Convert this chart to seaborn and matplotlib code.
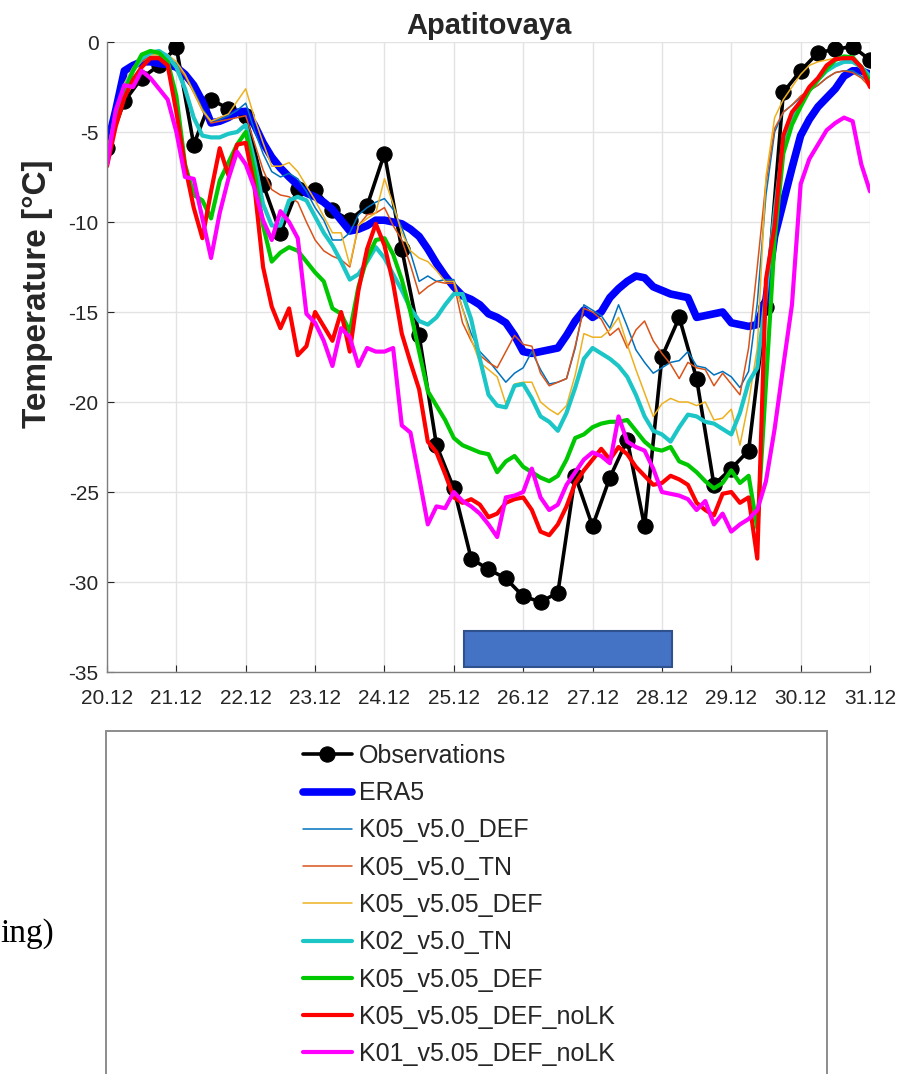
import matplotlib
matplotlib.use("Agg")
import matplotlib.pyplot as plt
from matplotlib.patches import Rectangle
import seaborn as sns
import numpy as np

sns.set_style("whitegrid")
plt.rcParams["font.family"] = ["Liberation Sans", "DejaVu Sans"]
plt.rcParams["axes.unicode_minus"] = False

# -------------------------------
# DATA (3-hourly, 20.12 00 UTC .. 31.12 00 UTC; obs every 6 h)
# -------------------------------
day_ticks = list(range(20, 32))
day_labels = [f"{d}.12" for d in day_ticks]

obs = [-5.9, -3.3, -2.0, -1.3, -0.3, -5.7, -3.2, -3.7,
       -4.1, -7.9, -10.6, -8.15, -8.2, -9.35, -9.9, -9.1,
       -6.2, -11.5, -16.3, -22.4, -24.8, -28.7, -29.3, -29.8,
       -30.8, -31.1, -30.6, -24.1, -26.9, -24.2, -22.1, -26.9,
       -17.5, -15.3, -18.7, -24.6, -23.7, -22.7, -14.7, -2.8,
       -1.6, -0.6, -0.4, -0.25, -1.0]

era5 = [-5.8, -3.8, -1.6, -1.3, -1.1, -1.1, -1.2, -1.25,
        -1.4, -1.8, -2.4, -3.3, -4.5, -4.4, -4.2, -3.9,
        -3.85, -4.6, -5.6, -6.4, -7.0, -7.5, -7.95, -8.4,
        -8.6, -8.9, -9.3, -9.9, -10.5, -10.4, -10.2, -9.9,
        -9.9, -10.0, -10.1, -10.4, -10.8, -11.5, -12.3, -13.0,
        -13.6, -14.1, -14.3, -14.6, -15.1, -15.3, -15.6, -16.3,
        -17.2, -17.3, -17.2, -17.1, -17.0, -16.3, -15.5, -14.9,
        -15.3, -15.0, -14.2, -13.7, -13.3, -13.0, -13.1, -13.6,
        -13.8, -14.0, -14.1, -14.2, -15.3, -15.2, -15.1, -15.0,
        -15.6, -15.7, -15.8, -15.7, -14.3, -10.8, -8.9, -7.0,
        -5.2, -4.3, -3.6, -3.1, -2.6, -1.9, -1.6, -1.6,
        -1.8]

k05_v50_def = [-6.2, -3.8, -2.4, -1.5, -1.0, -0.8, -0.8, -0.9,
               -1.2, -1.8, -2.7, -3.7, -4.4, -4.3, -4.1, -3.8,
               -3.4, -4.9, -6.2, -7.2, -7.5, -7.3, -7.6, -8.3,
               -9.2, -9.9, -11.0, -11.0, -10.6, -9.6, -9.2, -8.9,
               -8.7, -9.3, -10.3, -11.7, -13.3, -13.0, -13.3, -13.2,
               -13.2, -14.8, -16.2, -17.2, -17.7, -18.3, -18.9, -18.4,
               -18.1, -17.2, -18.2, -19.0, -18.9, -18.7, -17.0, -14.6,
               -14.9, -15.2, -15.9, -14.6, -15.8, -17.1, -17.8, -18.4,
               -18.1, -17.8, -17.7, -17.2, -18.0, -18.1, -18.5, -18.3,
               -18.6, -19.2, -18.3, -14.5, -8.5, -5.0, -3.9, -3.5,
               -3.1, -2.7, -2.4, -2.0, -1.7, -1.6, -1.6, -1.9,
               -2.3]

k05_v50_tn = [-6.3, -3.9, -2.5, -1.6, -1.1, -0.8, -0.8, -0.9,
              -1.3, -1.9, -2.8, -3.8, -4.5, -4.4, -4.3, -4.2,
              -4.1, -5.6, -7.1, -8.2, -8.5, -8.6, -8.9, -10.0,
              -11.0, -11.6, -11.9, -12.1, -12.5, -10.2, -9.6, -9.5,
              -9.2, -10.2, -11.0, -12.4, -14.0, -13.6, -13.3, -13.4,
              -13.4, -15.6, -16.6, -17.4, -17.8, -18.1, -17.2, -16.3,
              -16.8, -16.9, -18.4, -19.1, -18.9, -18.7, -16.9, -14.8,
              -15.0, -15.4, -16.3, -15.9, -17.0, -16.0, -15.5, -16.6,
              -17.3, -17.9, -18.7, -17.8, -18.1, -18.2, -19.1, -18.4,
              -19.0, -19.6, -17.0, -12.5, -7.8, -4.8, -3.9, -3.5,
              -3.0, -2.7, -2.4, -2.0, -1.7, -1.6, -1.7, -2.0,
              -2.5]

k05_v505_def_thin = [-6.1, -3.7, -2.3, -1.4, -0.9, -0.7, -0.7, -0.7,
                     -1.1, -1.8, -2.8, -3.8, -4.4, -4.2, -4.0, -3.3,
                     -2.6, -4.2, -5.6, -6.9, -6.9, -6.7, -7.2, -8.0,
                     -8.8, -9.7, -10.6, -10.6, -12.4, -10.2, -9.8, -9.5,
                     -7.6, -9.0, -10.6, -11.6, -12.0, -12.2, -12.7, -13.3,
                     -13.3, -14.8, -16.5, -17.8, -18.2, -18.6, -20.1, -19.0,
                     -18.9, -18.9, -20.0, -20.4, -20.7, -20.2, -18.5, -16.2,
                     -16.4, -16.4, -16.0, -15.3, -16.8, -18.2, -19.5, -20.8,
                     -20.1, -19.8, -20.0, -20.0, -20.2, -20.0, -21.0, -20.9,
                     -20.4, -22.4, -20.0, -17.0, -7.5, -4.2, -3.2, -2.5,
                     -1.8, -1.3, -1.1, -1.0, -0.9, -0.9, -0.9, -1.5,
                     -2.6]

k02_v50_tn = [-6.7, -4.2, -2.6, -1.6, -0.9, -0.6, -0.5, -0.8,
              -1.4, -2.6, -4.2, -5.2, -5.3, -5.3, -5.1, -5.0,
              -4.6, -6.6, -9.0, -10.2, -10.2, -8.8, -8.6, -8.8,
              -9.7, -10.6, -11.3, -12.2, -13.2, -12.9, -12.2, -11.4,
              -12.0, -12.9, -13.8, -14.8, -15.5, -15.7, -15.3, -14.6,
              -14.0, -14.0, -15.4, -17.6, -19.6, -20.2, -20.3, -19.1,
              -19.0, -19.8, -20.8, -21.1, -21.6, -20.6, -19.2, -17.6,
              -17.0, -17.3, -17.6, -18.0, -18.6, -19.6, -20.8, -21.6,
              -21.8, -22.2, -21.4, -20.7, -20.8, -21.1, -21.2, -21.5,
              -21.8, -20.6, -18.9, -18.1, -14.0, -9.5, -5.6, -4.2,
              -3.3, -2.6, -2.1, -1.6, -1.3, -1.1, -1.1, -1.4,
              -1.9]

k05_v505_def = [-6.6, -4.3, -2.8, -1.6, -0.7, -0.5, -0.6, -1.1,
                -3.0, -6.8, -8.5, -8.8, -9.8, -7.7, -6.7, -5.7,
                -5.0, -7.2, -10.2, -12.2, -11.7, -11.4, -11.6, -12.2,
                -12.8, -13.3, -14.8, -15.1, -16.1, -13.6, -12.0, -11.0,
                -10.9, -11.8, -13.2, -15.0, -17.2, -19.4, -20.2, -21.0,
                -22.0, -22.4, -22.6, -22.8, -22.9, -23.9, -23.3, -23.0,
                -23.6, -23.9, -24.2, -24.4, -24.1, -23.2, -22.0, -21.8,
                -21.4, -21.2, -21.1, -21.1, -21.0, -21.6, -22.2, -22.6,
                -22.7, -22.5, -23.3, -23.5, -23.9, -24.4, -24.8, -24.5,
                -23.8, -24.5, -24.1, -27.0, -19.0, -11.0, -6.2, -4.6,
                -3.6, -2.7, -2.1, -1.5, -1.0, -0.8, -0.85, -1.4,
                -2.2]

k05_v505_def_nolk = [-6.9, -4.7, -3.1, -2.1, -1.4, -0.9, -0.9, -1.3,
                     -3.9, -6.9, -9.2, -10.9, -8.3, -5.9, -7.4, -5.7,
                     -5.6, -8.0, -12.5, -14.7, -15.9, -14.8, -17.4, -16.9,
                     -15.0, -15.8, -16.6, -15.0, -17.2, -13.8, -11.5, -10.1,
                     -11.3, -13.4, -16.2, -17.8, -19.3, -22.2, -22.8, -24.0,
                     -25.3, -25.6, -25.4, -25.7, -26.4, -26.2, -25.6, -25.4,
                     -25.3, -26.0, -27.2, -27.4, -26.8, -25.8, -24.5, -23.8,
                     -23.2, -22.6, -23.2, -22.5, -22.9, -23.6, -24.1, -24.6,
                     -24.5, -24.1, -24.3, -24.6, -25.6, -26.0, -26.3, -25.1,
                     -25.0, -25.6, -25.3, -28.7, -13.2, -10.2, -5.2, -3.9,
                     -3.3, -2.5, -2.0, -1.3, -0.95, -0.9, -0.9, -1.4,
                     -2.5]

k01_v505_def_nolk = [-6.8, -3.8, -2.4, -2.5, -1.6, -2.0, -2.6, -3.2,
                     -5.0, -7.5, -7.6, -9.8, -12.0, -9.5, -7.6, -6.1,
                     -6.8, -8.1, -9.9, -11.0, -9.4, -10.0, -10.9, -15.1,
                     -15.6, -16.6, -18.0, -15.9, -16.4, -18.0, -17.0, -17.2,
                     -17.2, -17.0, -21.3, -21.7, -24.2, -26.8, -25.8, -25.9,
                     -25.0, -25.5, -25.8, -26.2, -26.8, -27.5, -25.3, -25.2,
                     -25.0, -23.7, -25.3, -26.0, -25.7, -24.6, -23.9, -23.2,
                     -22.8, -23.0, -23.4, -20.8, -22.2, -22.5, -22.7, -23.7,
                     -25.0, -25.1, -25.2, -25.4, -26.0, -25.5, -26.8, -26.2,
                     -27.2, -26.8, -26.5, -26.0, -24.4, -21.5, -18.0, -14.6,
                     -7.9, -6.5, -5.7, -4.9, -4.5, -4.2, -4.4, -6.8,
                     -8.3]

# cold period marker (bar under the curves)
cold_start, cold_length = 25.15, 3.0
cold_center, cold_height = -33.7, 2.0

# -------------------------------
# PLOT
# -------------------------------
t_model = 20 + np.arange(len(era5)) / 8.0
t_obs = 20 + np.arange(len(obs)) / 4.0

fig = plt.figure(figsize=(9.17, 10.74), dpi=100)
ax = fig.add_axes([107 / 917, 1 - 672 / 1074, 763 / 917, 630 / 1074])

series = [
    (k05_v50_def, "K05_v5.0_DEF", "#0072BD", 1.1),
    (k05_v50_tn, "K05_v5.0_TN", "#D95319", 1.1),
    (k05_v505_def_thin, "K05_v5.05_DEF", "#EDB120", 1.1),
    (k02_v50_tn, "K02_v5.0_TN", "#1CC6C6", 3.0),
    (k05_v505_def, "K05_v5.05_DEF", "#00C800", 3.0),
    (k05_v505_def_nolk, "K05_v5.05_DEF_noLK", "#FF0000", 3.0),
    (k01_v505_def_nolk, "K01_v5.05_DEF_noLK", "#FF00FF", 3.0),
]

sns.lineplot(x=t_obs, y=obs, ax=ax, color="black", linewidth=2.6,
             marker="o", markersize=11, markeredgecolor="black", label="Observations")
sns.lineplot(x=t_model, y=era5, ax=ax, color="#0000FF", linewidth=5.5, label="ERA5")
for vals, name, col, lw in series:
    sns.lineplot(x=t_model, y=vals, ax=ax, color=col, linewidth=lw, label=name)

ax.barh(y=cold_center, width=cold_length, left=cold_start, height=cold_height,
        color="#4472C4", edgecolor="#2F528F", linewidth=1.5, zorder=1)

ax.set_xlim(20, 31)
ax.set_ylim(-35, 0)
ax.set_xticks(day_ticks)
ax.set_xticklabels(day_labels)
ax.set_yticks(range(-35, 1, 5))
ax.tick_params(axis="both", labelsize=15, direction="in", length=5, width=0.8,
               color="#262626", labelcolor="#262626")
ax.tick_params(axis="x", pad=12)
ax.tick_params(axis="y", pad=6)
ax.tick_params(axis="both", which="both", top=False, right=False, bottom=True, left=True)
ax.grid(True, color="#E3E3E3", linewidth=1)
for side in ["top", "right"]:
    ax.spines[side].set_visible(False)
for side in ["left", "bottom"]:
    ax.spines[side].set_color("#7F7F7F")
    ax.spines[side].set_linewidth(1.0)

ax.set_title("Apatitovaya", fontsize=21, fontweight="bold", pad=6)
ax.set_ylabel("Temperature [°C]", fontsize=24, fontweight="bold")
ax.yaxis.set_label_coords(-0.071, 0.60)
ax.set_xlabel("")

# legend in its own box below the axes
handles, labels = ax.get_legend_handles_labels()
ax.get_legend().remove()
fig.legend(handles, labels, loc="upper left", bbox_to_anchor=(303 / 917, 1 - 744 / 1074),
           frameon=False, fontsize=18, handlelength=1.95, handletextpad=0.3,
           labelspacing=0.53, borderpad=0, borderaxespad=0)
fig.add_artist(Rectangle((106 / 917, -0.05), 721 / 917, 0.05 + 1 - 731 / 1074,
                         transform=fig.transFigure, fill=False,
                         edgecolor="#8C8C8C", linewidth=1.4))

# fragment of surrounding page text
fig.text(0.0, 1 - 942 / 1074, "ing)", fontsize=24, family=["Liberation Serif", "DejaVu Serif"],
         ha="left", va="baseline", color="black")

fig.savefig("out.png", dpi=100)
